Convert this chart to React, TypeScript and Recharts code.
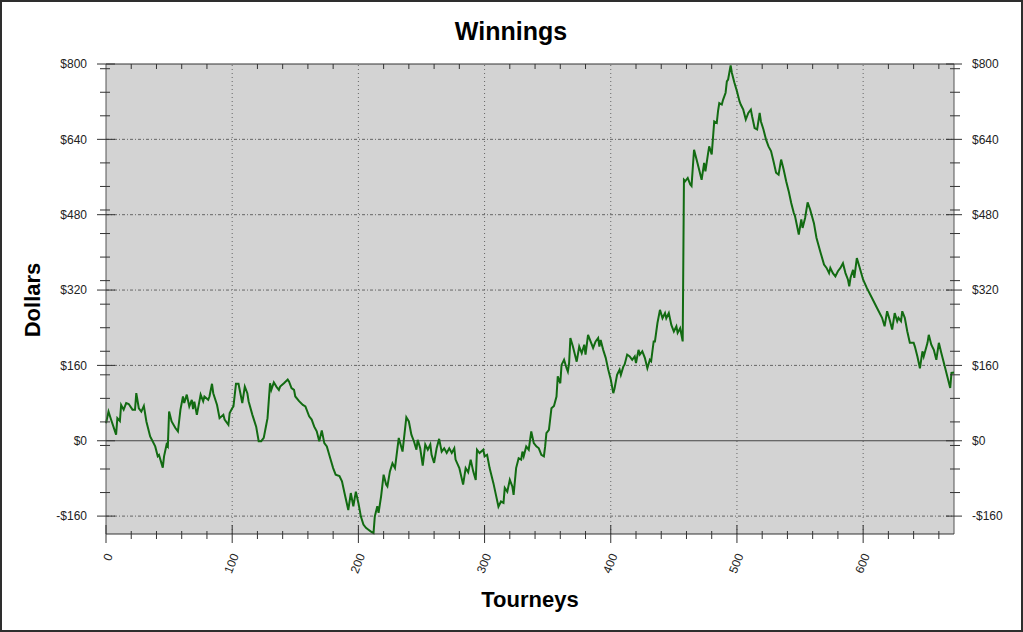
import React from "react";
import {
  LineChart,
  Line,
  XAxis,
  YAxis,
  CartesianGrid,
  ReferenceLine,
} from "recharts";

// tourney number -> cumulative winnings ($)
const tourneys = [
  0, 2, 4, 8, 9, 11, 12, 14, 16, 18, 21, 23, 24, 26, 28, 30, 32, 35, 39, 41,
  42, 45, 46, 48, 49, 50, 52, 55, 57, 59, 61, 62, 64, 66, 68, 69, 70, 72, 75,
  77, 78, 81, 82, 84, 85, 88, 90, 93, 94, 97, 98, 100, 101, 103, 105, 107, 108,
  110, 112, 113, 116, 119, 121, 123, 125, 127, 128, 130, 131, 133, 135, 137,
  138, 141, 144, 145, 147, 149, 150, 153, 156, 158, 161, 163, 165, 167, 169,
  171, 173, 175, 178, 180, 182, 185, 187, 189, 192, 194, 196, 198, 200, 202,
  204, 206, 208, 210, 212, 213, 215, 216, 218, 220, 222, 223, 225, 227, 229,
  232, 235, 238, 240, 242, 244, 246, 247, 249, 251, 253, 255, 257, 258, 260,
  262, 264, 266, 268, 270, 272, 274, 276, 277, 280, 283, 285, 287, 289, 291,
  293, 294, 296, 299, 300, 302, 304, 307, 309, 311, 313, 315, 316, 318, 320,
  322, 323, 325, 327, 329, 330, 331, 333, 335, 337, 339, 341, 343, 345, 347,
  348, 349, 351, 353, 355, 357, 358, 360, 361, 363, 365, 366, 367, 368, 370,
  373, 375, 377, 379, 380, 382, 384, 386, 388, 390, 391, 392, 394, 396, 398,
  400, 402, 403, 405, 407, 408, 410, 411, 413, 415, 417, 419, 420, 422, 423,
  425, 427, 429, 431, 432, 434, 435, 437, 439, 441, 443, 444, 446, 448, 450,
  452, 453, 455, 457, 458, 459, 461, 463, 464, 466, 468, 470, 472, 474, 475,
  477, 478, 480, 481, 482, 484, 485, 486, 488, 489, 491, 492, 493, 495, 496,
  498, 500, 502, 503, 505, 507, 509, 511, 512, 514, 516, 518, 519, 521, 523,
  525, 527, 529, 531, 533, 535, 537, 539, 541, 543, 545, 546, 549, 551, 552,
  554, 556, 558, 561, 563, 566, 569, 571, 573, 574, 576, 578, 580, 582, 584,
  586, 588, 589, 590, 592, 593, 595, 597, 600, 603, 607, 611, 615, 617, 619,
  621, 623, 625, 627, 628, 630, 631, 633, 635, 637, 640, 641, 643, 645, 647,
  648, 651, 652, 654, 656, 658, 660, 662, 664, 666, 669, 670, 672,
];

const winnings = [
  37, 62, 45, 13, 48, 42, 76, 66, 80, 78, 66, 66, 101, 69, 62, 74, 41, 9, -12,
  -33, -30, -57, -33, -8, -12, 62, 41, 27, 20, 66, 94, 80, 98, 73, 87, 67, 83,
  55, 98, 84, 94, 87, 94, 121, 101, 76, 48, 55, 45, 34, 59, 69, 73, 121, 121,
  94, 80, 115, 101, 84, 55, 30, -1, -1, 6, 34, 48, 122, 108, 124, 115, 108,
  115, 122, 130, 126, 112, 108, 94, 84, 76, 73, 52, 45, 30, 20, -1, 22, -5,
  -12, -40, -58, -72, -75, -86, -111, -147, -111, -139, -108, -132, -161, -178,
  -185, -189, -193, -196, -161, -139, -153, -118, -72, -93, -97, -65, -48, -58,
  6, -23, 50, 41, 13, -1, -19, 2, -16, -53, -8, -19, -8, -30, -47, -16, 4, -23,
  -16, -26, -16, -26, -16, -40, -58, -93, -58, -67, -40, -65, -83, -19, -26,
  -19, -33, -30, -58, -90, -115, -140, -129, -132, -100, -108, -83, -97, -115,
  -58, -37, -40, -23, -33, -12, -19, 20, -5, -12, -16, -30, -33, -12, 16, 23,
  69, 74, 94, 137, 122, 161, 172, 154, 147, 165, 218, 200, 168, 200, 186, 204,
  183, 225, 211, 197, 211, 218, 200, 214, 193, 176, 151, 130, 101, 111, 140,
  151, 140, 158, 162, 183, 179, 172, 179, 165, 193, 183, 190, 176, 154, 172,
  169, 211, 211, 250, 278, 260, 271, 260, 271, 246, 232, 243, 229, 239, 211,
  554, 551, 558, 544, 541, 618, 597, 576, 554, 590, 572, 608, 625, 608, 643,
  678, 675, 700, 717, 714, 724, 739, 763, 767, 797, 781, 760, 742, 721, 714,
  703, 682, 696, 703, 689, 664, 661, 696, 678, 661, 640, 625, 615, 593, 569,
  565, 597, 576, 551, 530, 505, 484, 477, 438, 470, 452, 473, 506, 491, 462,
  431, 402, 374, 367, 356, 367, 356, 349, 360, 367, 377, 356, 342, 328, 346,
  363, 346, 388, 370, 342, 324, 303, 282, 261, 243, 275, 257, 236, 271, 254,
  261, 254, 275, 261, 232, 208, 208, 200, 179, 154, 190, 179, 208, 225, 204,
  193, 172, 208, 186, 165, 144, 112, 144, 145,
];

const xMajor = [0, 100, 200, 300, 400, 500, 600];
const xMinor = [
  20, 40, 60, 80, 120, 140, 160, 180, 220, 240, 260, 280, 320, 340, 360, 380,
  420, 440, 460, 480, 520, 540, 560, 580, 620, 640, 660,
];
const yMajor = [-160, 0, 160, 320, 480, 640, 800];
const yMinor = [
  -110, -60, -10, 40, 90, 140, 190, 240, 290, 340, 390, 440, 490, 540, 590,
  690, 740, 790,
];

const X_DOMAIN: [number, number] = [0, 672];
const Y_DOMAIN: [number, number] = [-198, 800];

const FONT = "Arial, 'Liberation Sans', sans-serif";
const GREEN = "#126b12";
const PLOT_W = 848; // width of the plot box, so the left axis ticks can be mirrored on the right edge

const data = tourneys.map((t, i) => ({ t, w: winnings[i] }));
const xTicks = [...xMajor, ...xMinor].sort((a, b) => a - b);
const yTicks = [...yMajor, ...yMinor].sort((a, b) => a - b);

const money = (v: number) => (v < 0 ? `-$${-v}` : `$${v}`);

// draws the left tick + label and the same tick on the right edge
const SideTicks = (props: any) => {
  const { x, y, payload } = props;
  const major = yMajor.includes(payload.value);
  const rx = x + PLOT_W;
  return (
    <g>
      <line
        x1={major ? x - 9 : x - 6}
        x2={major ? x + 9 : x + 4}
        y1={y}
        y2={y}
        stroke="#333"
      />
      <line
        x1={major ? rx - 8 : rx - 4}
        x2={major ? rx + 8 : rx + 6}
        y1={y}
        y2={y}
        stroke="#333"
      />
      {major && (
        <text
          x={x - 19}
          y={y}
          dy="0.35em"
          textAnchor="end"
          fontSize={12}
          fontFamily={FONT}
          fill="#222"
        >
          {money(payload.value)}
        </text>
      )}
      {major && (
        <text
          x={rx + 18}
          y={y}
          dy="0.35em"
          textAnchor="start"
          fontSize={12}
          fontFamily={FONT}
          fill="#222"
        >
          {money(payload.value)}
        </text>
      )}
    </g>
  );
};

const BottomTick = (props: any) => {
  const { x, y, payload } = props;
  const major = xMajor.includes(payload.value);
  return (
    <g>
      <line
        x1={x}
        x2={x}
        y1={major ? y - 9 : y - 3}
        y2={major ? y + 9 : y + 5}
        stroke="#333"
      />
      {major && (
        <text
          transform={`translate(${x + 3},${y + 20}) rotate(-68)`}
          dy="0.35em"
          textAnchor="end"
          fontSize={12}
          fontFamily={FONT}
          fill="#222"
        >
          {payload.value}
        </text>
      )}
    </g>
  );
};

const TopTick = (props: any) => {
  const { x, y, payload } = props;
  if (xMajor.includes(payload.value)) return <g />;
  return <line x1={x} x2={x} y1={y} y2={y + 5} stroke="#333" />;
};

export default function App() {
  return (
    <div
      style={{
        position: "absolute",
        left: 0,
        top: 0,
        width: 1023,
        height: 632,
        background: "#fff",
        fontFamily: FONT,
      }}
    >
      <LineChart
        width={1023}
        height={632}
        data={data}
        margin={{ top: 44, right: 69, bottom: 0, left: 0 }}
      >
        <CartesianGrid
          xAxisId="bottom"
          yAxisId="left"
          fill="#d3d3d3"
          horizontal={false}
          vertical={false}
        />
        <XAxis
          xAxisId="bottom"
          dataKey="t"
          type="number"
          domain={X_DOMAIN}
          ticks={xTicks}
          interval={0}
          height={98}
          tickSize={0}
          tickMargin={0}
          tickLine={false}
          axisLine={{ stroke: "#333" }}
          tick={BottomTick}
        />
        <XAxis
          xAxisId="top"
          orientation="top"
          dataKey="t"
          type="number"
          domain={X_DOMAIN}
          ticks={xTicks}
          interval={0}
          height={20}
          tickSize={0}
          tickMargin={0}
          tickLine={false}
          axisLine={{ stroke: "#333" }}
          tick={TopTick}
        />
        <YAxis
          yAxisId="left"
          type="number"
          domain={Y_DOMAIN}
          ticks={yTicks}
          interval={0}
          width={106}
          tickSize={0}
          tickMargin={0}
          tickLine={false}
          axisLine={{ stroke: "#555" }}
          tick={SideTicks}
        />
        {xMajor.slice(1).map((v) => (
          <ReferenceLine
            key={`vx-${v}`}
            xAxisId="bottom"
            yAxisId="left"
            x={v}
            stroke="#666"
            strokeDasharray="1 3"
          />
        ))}
        {yMajor
          .filter((v) => v !== 0 && v !== 800)
          .map((v) => (
            <ReferenceLine
              key={`hy-${v}`}
              xAxisId="bottom"
              yAxisId="left"
              y={v}
              stroke="#666"
              strokeDasharray="3 2 1 2"
            />
          ))}
        <ReferenceLine
          xAxisId="bottom"
          yAxisId="left"
          y={0}
          stroke="#444"
          strokeWidth={1}
        />
        <ReferenceLine
          xAxisId="bottom"
          yAxisId="left"
          x={X_DOMAIN[1]}
          stroke="#555"
          strokeWidth={1}
        />
        <Line
          xAxisId="bottom"
          yAxisId="left"
          type="linear"
          dataKey="w"
          stroke={GREEN}
          strokeWidth={2}
          dot={false}
          activeDot={false}
          isAnimationActive={false}
        />
      </LineChart>
      <svg
        width={1023}
        height={632}
        style={{ position: "absolute", left: 0, top: 0, pointerEvents: "none" }}
      >
        <text
          x={511}
          y={40}
          textAnchor="middle"
          fontSize={25}
          fontWeight="bold"
          fontFamily={FONT}
          fill="#000"
        >
          Winnings
        </text>
        <text
          x={530}
          y={607}
          textAnchor="middle"
          fontSize={22}
          fontWeight="bold"
          fontFamily={FONT}
          fill="#000"
        >
          Tourneys
        </text>
        <text
          transform="translate(40,300) rotate(-90)"
          textAnchor="middle"
          fontSize={22}
          fontWeight="bold"
          fontFamily={FONT}
          fill="#000"
        >
          Dollars
        </text>
      </svg>
      <div
        style={{
          position: "absolute",
          inset: 0,
          border: "2px solid #2e2e2e",
          boxSizing: "border-box",
          pointerEvents: "none",
        }}
      />
    </div>
  );
}
